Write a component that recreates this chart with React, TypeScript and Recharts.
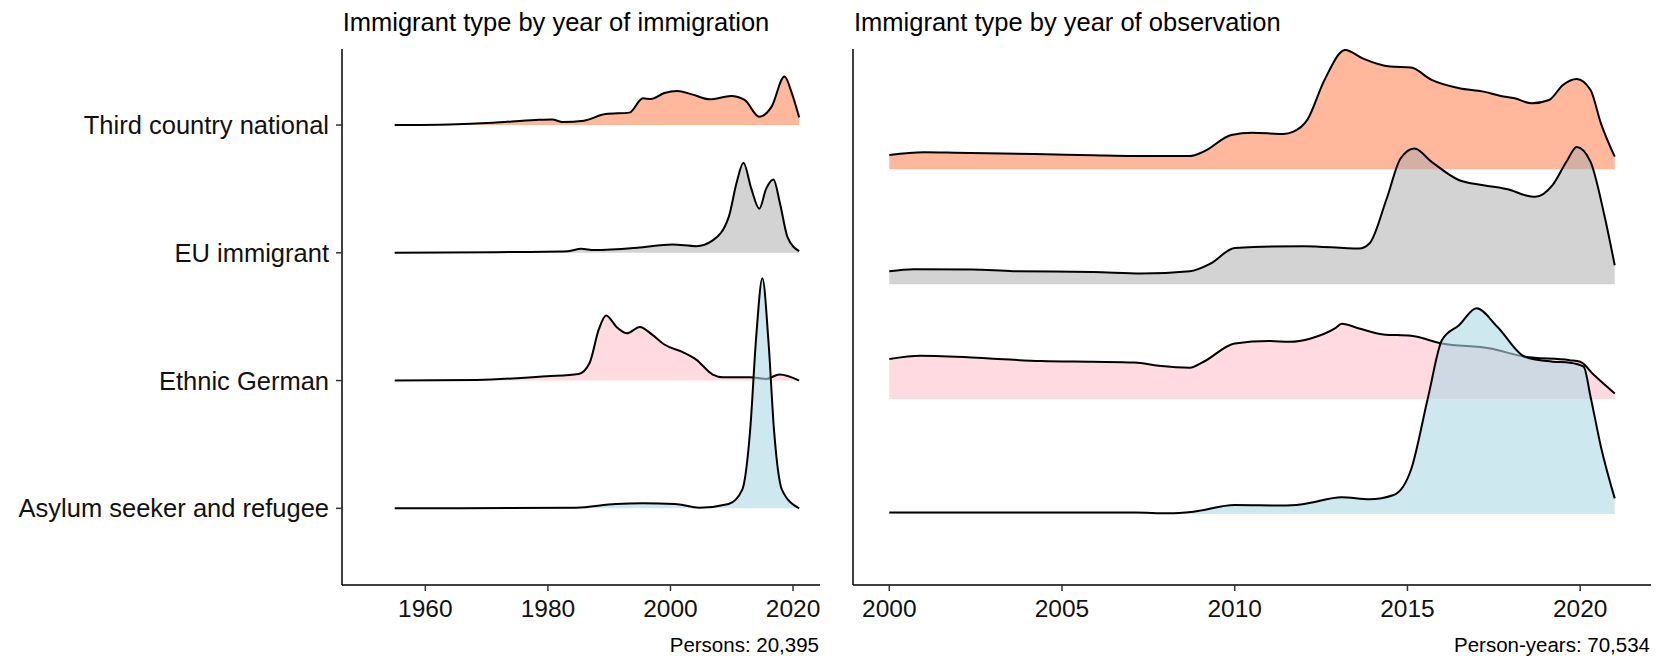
import React from "react";
import { ComposedChart, Area, XAxis, YAxis } from "recharts";

// categories, bottom to top (y = 1..4)
const categories = ["Asylum seeker and refugee", "Ethnic German", "EU immigrant", "Third country national"];

// ridge heights are in units of the category spacing
// --- by year of immigration ---
const tcnImmYears = [1955, 1964, 1971, 1978, 1980.7, 1982.4, 1985.9, 1989.4, 1993.3, 1995.5, 1996.8, 1999, 2001.1, 2003.5, 2006.4, 2009.9, 2012.1, 2014.5, 2016.5, 2018.6, 2019.8, 2021];
const tcnImm = [0, 0.005, 0.018, 0.04, 0.044, 0.023, 0.034, 0.086, 0.097, 0.209, 0.204, 0.25, 0.266, 0.24, 0.201, 0.227, 0.196, 0.065, 0.144, 0.379, 0.25, 0.06];

const euImmYears = [1955, 1971.5, 1983.3, 1985.4, 1987.6, 1994.6, 2000.3, 2004.2, 2006.9, 2009.5, 2010.8, 2011.9, 2013.2, 2014.5, 2015.6, 2016.8, 2017.9, 2019.1, 2021];
const euImm = [0, 0.005, 0.013, 0.031, 0.021, 0.039, 0.065, 0.052, 0.097, 0.279, 0.55, 0.705, 0.5, 0.345, 0.5, 0.574, 0.38, 0.123, 0.013];

const egImmYears = [1955, 1968.4, 1979.8, 1985, 1986.8, 1988.3, 1989.5, 1991.2, 1992.9, 1995, 1997, 1999, 2002, 2004.2, 2006.9, 2008.6, 2013, 2015.6, 2017.8, 2021];
const egImm = [0, 0.005, 0.034, 0.052, 0.138, 0.4, 0.51, 0.42, 0.37, 0.42, 0.36, 0.282, 0.222, 0.164, 0.047, 0.026, 0.026, 0.013, 0.047, 0];

const asyImmYears = [1955, 1984.6, 1991.1, 1995.5, 2000.7, 2004.7, 2009.5, 2011.7, 2013, 2014, 2015, 2016, 2016.9, 2018.2, 2021];
const asyImm = [0, 0.005, 0.034, 0.039, 0.034, 0.005, 0.034, 0.144, 0.61, 1.35, 1.8, 1.3, 0.61, 0.144, 0];

// --- by year of observation ---
const tcnObsYears = [2000, 2001, 2001.9, 2004.2, 2005.9, 2007.1, 2008.7, 2009.1, 2009.9, 2010.5, 2011.4, 2011.7, 2012.1, 2012.6, 2013.2, 2013.7, 2014.5, 2015.1, 2015.7, 2016.5, 2017.2, 2017.7, 2018.1, 2018.6, 2019.1, 2019.5, 2019.9, 2020.3, 2020.6, 2021];
const tcnObs = [0.125, 0.148, 0.145, 0.133, 0.122, 0.116, 0.116, 0.154, 0.299, 0.319, 0.308, 0.328, 0.43, 0.778, 1.039, 0.966, 0.894, 0.885, 0.778, 0.705, 0.676, 0.638, 0.618, 0.574, 0.603, 0.734, 0.786, 0.69, 0.4, 0.11];

const euObsYears = [2000, 2000.7, 2002.4, 2003.6, 2005.9, 2007.3, 2008.7, 2009.3, 2010, 2012, 2013.6, 2013.9, 2014.4, 2014.8, 2015.2, 2015.7, 2016.5, 2017.2, 2018, 2018.4, 2018.7, 2019.2, 2019.6, 2019.9, 2020.3, 2020.7, 2021];
const euObs = [0.113, 0.131, 0.128, 0.113, 0.107, 0.093, 0.113, 0.18, 0.316, 0.331, 0.31, 0.354, 0.746, 1.094, 1.181, 1.065, 0.905, 0.862, 0.818, 0.775, 0.76, 0.862, 1.065, 1.195, 1.065, 0.6, 0.165];

const egObsYears = [2000, 2000.9, 2002.9, 2004.4, 2005.9, 2007.1, 2007.8, 2008.7, 2009.1, 2010, 2011, 2011.6, 2012.2, 2012.9, 2013.1, 2013.6, 2014.3, 2015.1, 2016, 2017.4, 2018.4, 2019.7, 2020, 2020.4, 2021];
const egObs = [0.348, 0.377, 0.354, 0.331, 0.325, 0.319, 0.29, 0.273, 0.325, 0.484, 0.505, 0.499, 0.528, 0.615, 0.656, 0.615, 0.563, 0.551, 0.484, 0.441, 0.368, 0.339, 0.325, 0.209, 0.049];

const asyObsYears = [2000, 2007.1, 2008.1, 2008.8, 2010, 2011.4, 2012, 2013.1, 2013.9, 2014.6, 2015.1, 2015.6, 2016, 2016.5, 2017, 2017.6, 2018.4, 2019.2, 2019.7, 2020.1, 2020.3, 2020.6, 2021];
const asyObs = [0.012, 0.012, 0.006, 0.02, 0.078, 0.073, 0.087, 0.145, 0.128, 0.165, 0.383, 1.021, 1.514, 1.645, 1.79, 1.63, 1.369, 1.326, 1.317, 1.282, 1.021, 0.586, 0.136];

const immTicks = [1960, 1980, 2000, 2020];
const obsTicks = [2000, 2005, 2010, 2015, 2020];

const FONT = "'Liberation Sans', Arial, sans-serif";

// drawn top ridge first so lower ridges sit on top
const ridgeStyle = [
  { key: "tcn", base: 4, fill: "#FFA07A", opacity: 0.75 },
  { key: "eu", base: 3, fill: "#A8A8A8", opacity: 0.5 },
  { key: "eg", base: 2, fill: "#FFB6C1", opacity: 0.5 },
  { key: "asy", base: 1, fill: "#ADD8E6", opacity: 0.6 },
];

type Series = { key: string; base: number; years: number[]; heights: number[] };

function buildTable(series: Series[]) {
  const rows = new Map<number, any>();
  series.forEach((s) =>
    s.years.forEach((y, i) => {
      const row = rows.get(y) ?? { year: y };
      row[s.key] = s.base + s.heights[i];
      rows.set(y, row);
    })
  );
  return [...rows.values()].sort((a, b) => a.year - b.year);
}

const immData = buildTable([
  { key: "tcn", base: 4, years: tcnImmYears, heights: tcnImm },
  { key: "eu", base: 3, years: euImmYears, heights: euImm },
  { key: "eg", base: 2, years: egImmYears, heights: egImm },
  { key: "asy", base: 1, years: asyImmYears, heights: asyImm },
]);

const obsData = buildTable([
  { key: "tcn", base: 4, years: tcnObsYears, heights: tcnObs },
  { key: "eu", base: 3, years: euObsYears, heights: euObs },
  { key: "eg", base: 2, years: egObsYears, heights: egObs },
  { key: "asy", base: 1, years: asyObsYears, heights: asyObs },
]);

function Ridges({ data, width, yAxisWidth, right, xDomain, xTicks, yDomain, labels }: any) {
  return (
    <ComposedChart
      width={width}
      height={656}
      data={data}
      margin={{ top: 49, right, bottom: 21, left: 0 }}
    >
      <XAxis
        dataKey="year"
        type="number"
        domain={xDomain}
        ticks={xTicks}
        allowDataOverflow
        height={50}
        axisLine={{ stroke: "#000", strokeWidth: 1.5 }}
        tickLine={{ stroke: "#333", strokeWidth: 1.5 }}
        tickSize={6}
        tickMargin={9}
        tick={{ fill: "#111", fontSize: 24.5, fontFamily: FONT }}
      />
      <YAxis
        type="number"
        domain={yDomain}
        ticks={labels ? [1, 2, 3, 4] : []}
        allowDataOverflow
        width={yAxisWidth}
        axisLine={{ stroke: "#000", strokeWidth: 1.5 }}
        tickLine={labels ? { stroke: "#333", strokeWidth: 1.5 } : false}
        tickSize={6}
        tickMargin={7}
        tick={labels ? { fill: "#111", fontSize: 25.5, fontFamily: FONT } : false}
        tickFormatter={(v: number) => categories[v - 1]}
      />
      {ridgeStyle.map((r) => (
        <Area
          key={r.key}
          dataKey={r.key}
          type="monotone"
          baseValue={r.base}
          connectNulls
          fill={r.fill}
          fillOpacity={r.opacity}
          stroke="#000"
          strokeWidth={2}
          dot={false}
          activeDot={false}
          isAnimationActive={false}
        />
      ))}
    </ComposedChart>
  );
}

export default function App() {
  return (
    <div style={{ position: "absolute", left: 0, top: 0, width: 1656, height: 656, background: "#fff" }}>
      <div style={{ position: "absolute", left: 0, top: 0 }}>
        <Ridges
          data={immData}
          width={830}
          yAxisWidth={342}
          right={10}
          xDomain={[1946.4, 2024.4]}
          xTicks={immTicks}
          yDomain={[0.4, 4.595]}
          labels
        />
      </div>
      <div style={{ position: "absolute", left: 830, top: 0 }}>
        <Ridges
          data={obsData}
          width={826}
          yAxisWidth={23}
          right={5}
          xDomain={[1998.95, 2022.05]}
          xTicks={obsTicks}
          yDomain={[0.382, 5.047]}
          labels={false}
        />
      </div>
      <svg
        width={1656}
        height={656}
        style={{ position: "absolute", left: 0, top: 0, pointerEvents: "none" }}
      >
        <text x={342.7} y={31} fontSize={25.5} fontFamily={FONT} fill="#000">
          Immigrant type by year of immigration
        </text>
        <text x={854} y={31} fontSize={25.5} fontFamily={FONT} fill="#000">
          Immigrant type by year of observation
        </text>
        <text x={819} y={651.7} fontSize={20.5} fontFamily={FONT} fill="#000" textAnchor="end">
          Persons: 20,395
        </text>
        <text x={1650} y={651.7} fontSize={20.5} fontFamily={FONT} fill="#000" textAnchor="end">
          Person-years: 70,534
        </text>
      </svg>
    </div>
  );
}
